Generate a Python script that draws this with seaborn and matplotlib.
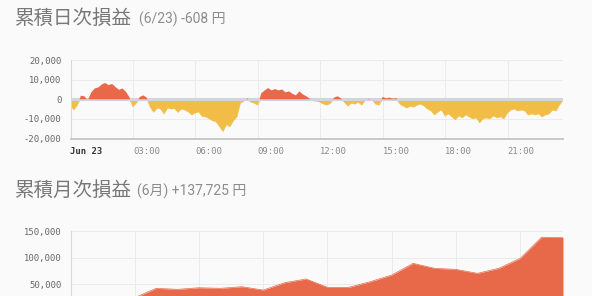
import numpy as np
import pandas as pd
import matplotlib
matplotlib.use("Agg")
import matplotlib.pyplot as plt
import seaborn as sns

# ---------------- data ----------------
daily_step_minutes = 10
daily_pnl = [
    -3000, -5500, -3000, 1800, 1500, -500, 3500, 5500, 6000, 7500,
    8300, 7200, 7800, 6200, 4800, 5500, 3800, 1000, -3800, -2000,
    1200, 2000, 800, -4000, -6700, -4500, -5000, -7500, -4500, -5000,
    -4800, -6700, -5000, -5500, -6500, -8000, -7000, -6500, -8800, -9000,
    -10000, -11000, -11500, -14000, -16500, -13000, -14000, -11000, -9000, -2000,
    -1000, 500, -1500, -2000, -3000, 3000, 4500, 5700, 4500, 5200,
    4500, 5000, 3500, 4000, 2800, 2000, 4000, 2500, 1500, 300,
    -800, -1000, -1500, -2500, -3000, -2000, 800, 1500, 500, -1500,
    -3500, -2000, -2500, -1500, -3000, -500, 300, -500, -2500, -3000,
    1200, 500, 800, 300, 600, -2500, -3500, -4500, -3500, -4000,
    -3000, -2500, -3500, -5000, -6000, -8000, -6500, -5500, -8500, -7500,
    -9000, -10500, -8500, -9500, -8000, -9000, -10000, -9500, -12000, -10000,
    -9500, -10000, -8500, -9500, -9000, -10000, -7000, -5500, -5000, -6000,
    -5500, -6000, -8000, -7500, -8000, -7500, -9000, -8000, -7500, -5500,
    -6000, -3000, -608,
]
hour_ticks = [0, 3, 6, 9, 12, 15, 18, 21]
hour_labels = ["Jun 23", "03:00", "06:00", "09:00", "12:00", "15:00", "18:00", "21:00"]
daily_yticks = [-20000, -10000, 0, 10000, 20000]

monthly_pnl = [3000, 10000, 8000, 25000, 42500, 40600, 43600, 42500, 45500, 39300,
               53000, 60000, 44400, 44400, 55000, 67400, 89300, 80000, 78000, 70600,
               80000, 98700, 138300, 137725]
monthly_xgrid = [0, 3, 6, 9, 12, 15, 18, 21]
monthly_yticks = [50000, 100000, 150000]

title_daily = "累積日次損益"
sub_daily = "(6/23) -608 円"
title_monthly = "累積月次損益"
sub_monthly = "(6月) +137,725 円"

# ---------------- style ----------------
sns.set_theme(style="white")
BG = "#fafafa"
RED = "#e8694a"
YEL = "#f1bd47"
GRID = "#ebebeb"
plt.rcParams["font.family"] = ["DejaVu Sans", "Noto Sans CJK JP"]

fig = plt.figure(figsize=(5.92, 2.96), dpi=100, facecolor=BG)
W, H = 592.0, 296.0

def px_axes(x0, y_top, x1, y_bot):
    return fig.add_axes([x0 / W, 1 - y_bot / H, (x1 - x0) / W, (y_bot - y_top) / H])

# ---------------- daily chart ----------------
ax1 = px_axes(70.5, 60, 563, 138.5)
ax1.set_facecolor(BG)
d = np.array(daily_pnl, dtype=float)
t = np.arange(len(d)) * daily_step_minutes / 60.0
df = pd.DataFrame({"t": t, "pos": np.maximum(d, 0), "neg": np.minimum(d, 0)})

ax1.fill_between(t, d, 0, where=d <= 0, interpolate=True, color=YEL, lw=0, zorder=2)
sns.lineplot(data=df, x="t", y="neg", ax=ax1, color=YEL, lw=0.4, zorder=2)
ax1.axhline(0, color="#d4d4de", lw=2.2, zorder=3)
ax1.fill_between(t, d, 0, where=d >= 0, interpolate=True, color=RED, lw=0, zorder=4)
sns.lineplot(data=df[df["pos"] > 0], x="t", y="pos", ax=ax1, color=RED, lw=0.0, zorder=4)

ax1.set_xlim(0, t[-1])
ax1.set_ylim(-20000, 20000)
ax1.set_xticks(hour_ticks)
ax1.set_xticklabels(hour_labels)
ax1.set_yticks(daily_yticks)
ax1.set_yticklabels([f"{v:,}" for v in daily_yticks])
ax1.set_xlabel("")
ax1.set_ylabel("")
ax1.grid(True, color=GRID, lw=0.7, zorder=0)
ax1.set_axisbelow(True)
for s in ["top", "right"]:
    ax1.spines[s].set_visible(False)
ax1.spines["left"].set_color("#d8d8d8")
ax1.spines["left"].set_linewidth(0.8)
ax1.spines["bottom"].set_color("#c8c8c8")
ax1.spines["bottom"].set_linewidth(1.4)
ax1.tick_params(axis="y", length=4, width=0.8, color="#cccccc", pad=2.5,
                labelsize=6.4, labelcolor="#666666", labelfontfamily="DejaVu Sans Mono")
ax1.tick_params(axis="x", length=0, pad=6, labelsize=6.4, labelcolor="#8a8a8a",
                labelfontfamily="DejaVu Sans Mono")
for i, lbl in enumerate(ax1.get_xticklabels()):
    lbl.set_ha("left")
    if i == 0:
        lbl.set_fontweight("bold")
        lbl.set_color("#333333")

# ---------------- monthly chart ----------------
ax2 = px_axes(70.5, 231, 563, 311)
ax2.set_facecolor(BG)
m = np.array(monthly_pnl, dtype=float)
k = np.arange(len(m))
ax2.fill_between(k, m, 0, color=RED, lw=0, zorder=2)
sns.lineplot(x=k, y=m, ax=ax2, color=RED, lw=0.5, zorder=2)
ax2.set_xlim(0, k[-1])
ax2.set_ylim(0, 150000)
ax2.set_xticks(monthly_xgrid)
ax2.set_xticklabels([])
ax2.set_yticks(monthly_yticks)
ax2.set_yticklabels([f"{v:,}" for v in monthly_yticks])
ax2.grid(True, color=GRID, lw=0.7, zorder=0)
ax2.set_axisbelow(True)
for s in ["top", "right"]:
    ax2.spines[s].set_visible(False)
ax2.spines["left"].set_color("#d8d8d8")
ax2.spines["left"].set_linewidth(0.8)
ax2.spines["bottom"].set_color("#c8c8c8")
ax2.tick_params(axis="y", length=4, width=0.8, color="#cccccc", pad=2.5,
                labelsize=6.4, labelcolor="#666666", labelfontfamily="DejaVu Sans Mono")
ax2.tick_params(axis="x", length=0)

# ---------------- titles ----------------
CJK = ["Noto Sans CJK JP", "DejaVu Sans"]
SUB = ["Roboto", "Noto Sans CJK JP", "DejaVu Sans"]
fig.text(15 / W, 1 - 23.5 / H, title_daily, fontsize=14, color="#777777", family=CJK, va="baseline")
fig.text(139 / W, 1 - 23.5 / H, sub_daily, fontsize=10, color="#8c8c8c", family=SUB, va="baseline")
fig.text(15 / W, 1 - 195.5 / H, title_monthly, fontsize=14, color="#777777", family=CJK, va="baseline")
fig.text(137 / W, 1 - 195.5 / H, sub_monthly, fontsize=10, color="#8c8c8c", family=SUB, va="baseline")

fig.savefig("out.png", dpi=100, facecolor=BG)
